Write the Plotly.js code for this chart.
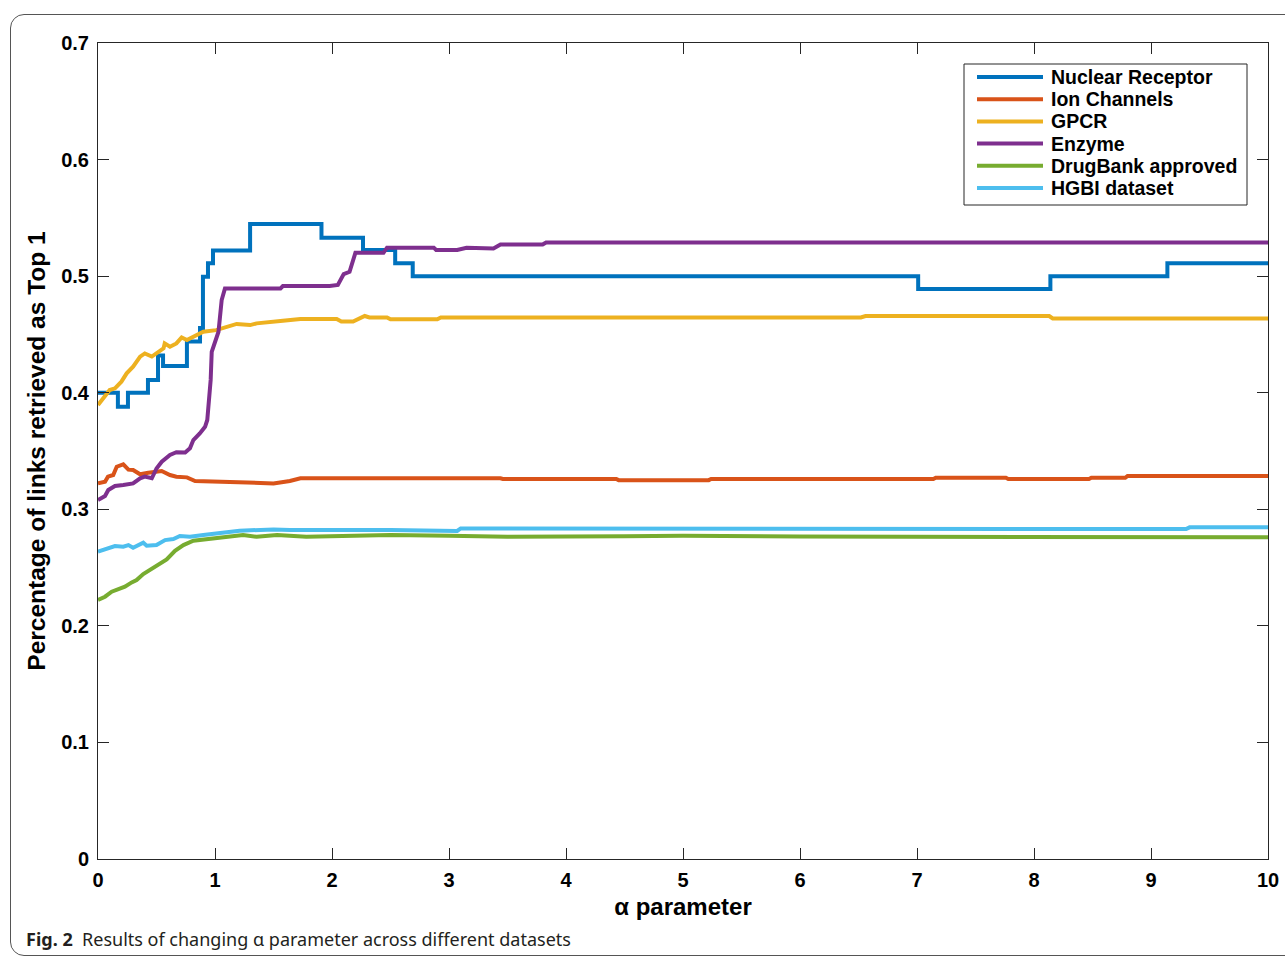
<!DOCTYPE html>
<html>
<head>
<meta charset="utf-8">
<script src="https://cdn.plot.ly/plotly-3.0.1.min.js"></script>
<style>
  html, body { margin: 0; padding: 0; background: #ffffff; }
  #frame { position: absolute; left: 10px; top: 14px; width: 1320px; height: 942px;
           border: 1.5px solid #555555; border-radius: 14px; box-sizing: border-box; }
  #chart { position: absolute; left: 0; top: 0; width: 1285px; height: 958px; }
</style>
</head>
<body>
<div id="frame"></div>
<div id="chart"></div>
<script>
// ---- data ----
const seriesNames = ["Nuclear Receptor", "Ion Channels", "GPCR", "Enzyme", "DrugBank approved", "HGBI dataset"];
const seriesColors = ["#0072BD", "#D95319", "#EDB120", "#7E2F8E", "#77AC30", "#4DBEEE"];

const nrX = [0, 0.17, 0.256, 0.427, 0.513, 0.556, 0.76, 0.872, 0.897, 0.94, 0.983, 1.30, 1.91, 2.265, 2.54, 2.69, 7.01, 8.14, 9.14, 10];
const nrY = [0.400, 0.388, 0.400, 0.411, 0.432, 0.423, 0.444, 0.4555, 0.4995, 0.511, 0.522, 0.5447, 0.533, 0.5225, 0.511, 0.500, 0.489, 0.500, 0.511, 0.511];

const icX = [0, 0.06, 0.085, 0.13, 0.16, 0.216, 0.26, 0.30, 0.36, 0.43, 0.544, 0.615, 0.67, 0.76, 0.83, 0.985, 1.21, 1.50, 1.64, 1.73,
             3.44, 3.46, 4.43, 4.45, 5.22, 5.24, 7.14, 7.16, 7.76, 7.78, 8.47, 8.49, 8.78, 8.80, 10];
const icY = [0.3223, 0.3237, 0.328, 0.3294, 0.3365, 0.3385, 0.334, 0.3337, 0.330, 0.3314, 0.3328, 0.3294, 0.328, 0.3274, 0.3243, 0.3237, 0.3228, 0.3222, 0.3243, 0.3266,
             0.3266, 0.326, 0.326, 0.325, 0.325, 0.326, 0.326, 0.327, 0.327, 0.326, 0.326, 0.327, 0.327, 0.3286, 0.3286];

const gpX = [0, 0.06, 0.10, 0.145, 0.20, 0.245, 0.30, 0.36, 0.40, 0.46, 0.50, 0.56, 0.57, 0.615, 0.67, 0.715, 0.76, 0.815, 0.90, 1.01, 1.13, 1.185, 1.30, 1.356, 1.58, 1.73,
             2.04, 2.08, 2.18, 2.28, 2.32, 2.47, 2.50, 2.90, 2.93, 6.52, 6.56, 8.13, 8.16, 10];
const gpY = [0.3895, 0.398, 0.4023, 0.4038, 0.4095, 0.4166, 0.4223, 0.431, 0.4337, 0.431, 0.4337, 0.438, 0.4423, 0.4394, 0.4423, 0.4474, 0.4452, 0.448, 0.4523, 0.4537, 0.4572, 0.459, 0.458, 0.4595, 0.4617, 0.4632,
             0.4632, 0.461, 0.461, 0.4658, 0.4646, 0.4646, 0.463, 0.463, 0.4646, 0.4646, 0.4658, 0.4658, 0.4637, 0.4637];

const enX = [0, 0.06, 0.088, 0.145, 0.216, 0.30, 0.36, 0.40, 0.46, 0.50, 0.545, 0.615, 0.67, 0.745, 0.786, 0.815, 0.87, 0.915, 0.934, 0.943,
             0.963, 0.972, 1.0, 1.03, 1.057, 1.085, 1.356, 1.56, 1.58, 1.98, 2.05, 2.10, 2.15, 2.20, 2.44, 2.47, 2.87, 2.89, 3.07, 3.15,
             3.38, 3.44, 3.80, 3.83, 10];
const enY = [0.308, 0.3114, 0.3165, 0.32, 0.3208, 0.3222, 0.3266, 0.328, 0.3266, 0.335, 0.3408, 0.3466, 0.349, 0.3488, 0.3523, 0.3594, 0.3651, 0.3708, 0.3766, 0.3866,
             0.411, 0.435, 0.4423, 0.4523, 0.4795, 0.4895, 0.4895, 0.4895, 0.4915, 0.4915, 0.4924, 0.5018, 0.5037, 0.520, 0.520, 0.5244, 0.5244, 0.5224, 0.5224, 0.5244,
             0.5237, 0.5271, 0.5271, 0.5289, 0.5289];

const dbX = [0, 0.06, 0.117, 0.188, 0.23, 0.288, 0.33, 0.387, 0.444, 0.515, 0.587, 0.658, 0.73, 0.815, 0.93, 1.07, 1.24, 1.356, 1.53, 1.78,
             2.07, 2.50, 3.0, 3.5, 4.5, 5.0, 6.0, 7.0, 8.0, 9.0, 10];
const dbY = [0.2222, 0.225, 0.2293, 0.2316, 0.2336, 0.2373, 0.2393, 0.2445, 0.2479, 0.2522, 0.257, 0.2644, 0.2693, 0.273, 0.2745, 0.2759, 0.2779, 0.2764, 0.2779, 0.2764,
             0.2773, 0.2779, 0.2773, 0.2765, 0.2768, 0.2772, 0.2766, 0.2763, 0.2759, 0.2759, 0.276];

const hgX = [0, 0.074, 0.145, 0.216, 0.26, 0.30, 0.387, 0.416, 0.50, 0.573, 0.644, 0.70, 0.786, 0.90, 1.043, 1.21, 1.50, 1.64, 2.50, 2.83, 2.86, 3.07, 3.10, 3.84, 3.87, 9.30, 9.33, 10];
const hgY = [0.2636, 0.2664, 0.2685, 0.2679, 0.2693, 0.267, 0.2713, 0.2688, 0.2693, 0.2736, 0.2745, 0.2771, 0.2764, 0.2779, 0.2793, 0.2816, 0.2827, 0.2822, 0.2822, 0.2822, 0.2814, 0.2814, 0.2836, 0.2836, 0.283, 0.283, 0.2845, 0.2845];

const xTicks = [0, 1, 2, 3, 4, 5, 6, 7, 8, 9, 10];
const yTicks = [0, 0.1, 0.2, 0.3, 0.4, 0.5, 0.6, 0.7];
const xTitle = "α parameter";
const yTitle = "Percentage of links retrieved as Top 1";
const captionBold = "Fig. 2";
const captionText = "Results of changing α parameter across different datasets";

// ---- build traces ----
const xs = [nrX, icX, gpX, enX, dbX, hgX];
const ys = [nrY, icY, gpY, enY, dbY, hgY];
const shapesKind = ["hv", "linear", "linear", "linear", "linear", "linear"];
const traces = seriesNames.map((n, i) => ({
  type: "scatter", mode: "lines", name: n,
  x: xs[i], y: ys[i],
  line: { color: seriesColors[i], width: 4, shape: shapesKind[i] },
  showlegend: false, hoverinfo: "x+y+name"
}));

// ---- layout geometry (pixels) ----
const W = 1285, H = 958;
const M = { l: 98, r: 17, t: 43, b: 99 };
const PW = W - M.l - M.r, PH = H - M.t - M.b;
const px = v => (v - M.l) / PW;
const py = v => (H - M.b - v) / PH;

const FONT = "Liberation Sans, Arial, Helvetica, sans-serif";
const shapes = [];
const annotations = [];

// Legend (box, line samples, labels)
const lg = { x0: 964, x1: 1247, y0: 64, y1: 205, row0: 77, rowGap: 22.2, s0: 977, s1: 1043, tx: 1049 };
shapes.push({ type: "rect", xref: "paper", yref: "paper", x0: px(lg.x0), x1: px(lg.x1), y0: py(lg.y1), y1: py(lg.y0),
  line: { color: "#262626", width: 1 }, fillcolor: "#ffffff", layer: "above" });
seriesNames.forEach((n, i) => {
  const yy = py(lg.row0 + i * lg.rowGap);
  shapes.push({ type: "line", xref: "paper", yref: "paper", x0: px(lg.s0), x1: px(lg.s1), y0: yy, y1: yy,
    line: { color: seriesColors[i], width: 4 }, layer: "above" });
  annotations.push({ xref: "paper", yref: "paper", x: px(lg.tx), y: yy, xanchor: "left", yanchor: "middle",
    text: "<b>" + n + "</b>", showarrow: false, font: { family: FONT, size: 19.5, color: "#000000" } });
});

// Caption
annotations.push({ xref: "paper", yref: "paper", x: px(24), y: py(939), xanchor: "left", yanchor: "middle",
  text: "<b>" + captionBold + "</b>  " + captionText, showarrow: false,
  font: { family: "Noto Sans, Open Sans, sans-serif", size: 18, color: "#231f20" } });

const axisCommon = {
  showline: true, linecolor: "#262626", linewidth: 1, mirror: "ticks",
  ticks: "inside", ticklen: 11, tickwidth: 1, tickcolor: "#262626",
  showgrid: false, zeroline: false, automargin: false,
  tickfont: { family: FONT, size: 20, color: "#000000", weight: "bold" }
};

const layout = {
  width: W, height: H, margin: M,
  paper_bgcolor: "rgba(0,0,0,0)", plot_bgcolor: "#ffffff",
  showlegend: false,
  xaxis: Object.assign({}, axisCommon, {
    range: [0, 10], tickvals: xTicks, ticktext: xTicks.map(String), ticklabelstandoff: 3,
    title: { text: xTitle, standoff: 8, font: { family: FONT, size: 24, color: "#000000", weight: "bold" } }
  }),
  yaxis: Object.assign({}, axisCommon, {
    range: [0, 0.7], tickvals: yTicks, ticktext: yTicks.map(String), ticklabelstandoff: 4,
    title: { text: yTitle, standoff: 8, font: { family: FONT, size: 24.5, color: "#000000", weight: "bold" } }
  }),
  shapes: shapes, annotations: annotations
};

Plotly.newPlot("chart", traces, layout, { displayModeBar: false, staticPlot: true });
</script>
</body>
</html>
